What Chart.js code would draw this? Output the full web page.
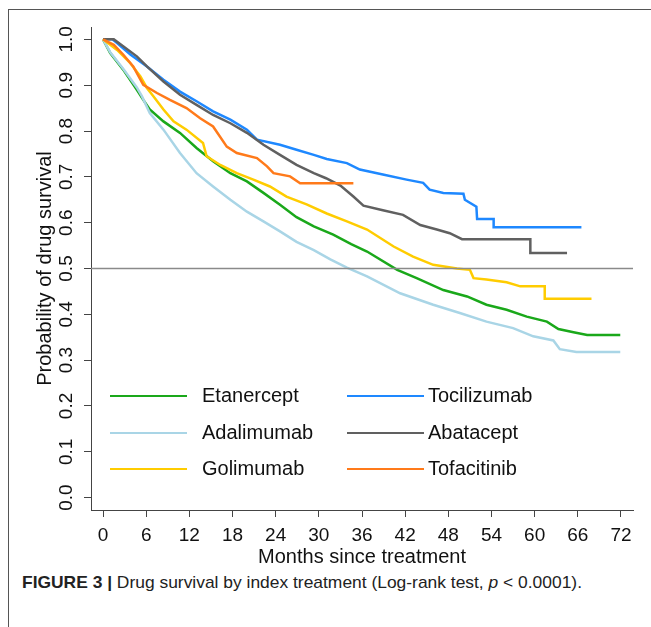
<!DOCTYPE html>
<html><head><meta charset="utf-8">
<script src="https://cdn.jsdelivr.net/npm/chart.js@4.4.1/dist/chart.umd.min.js"></script>
<style>
html,body{margin:0;padding:0;background:#fff;width:651px;height:627px;overflow:hidden;}
#frame{position:absolute;left:8px;top:9px;width:660px;height:640px;border-top:1.5px solid #555;border-left:1.5px solid #555;}
#wrap{position:absolute;left:0;top:0;width:651px;height:570px;}
.leg{position:absolute;font:20px "Liberation Sans",Arial,sans-serif;color:#111;white-space:nowrap;line-height:22px;}
.ll{position:absolute;height:2px;width:77px;}
#cap{position:absolute;left:22px;top:572px;font:17px "Liberation Sans Narrow","Arial Narrow","Liberation Sans",sans-serif;color:#222;white-space:nowrap;transform-origin:0 0;line-height:22px;}
</style></head><body>
<div id="frame"></div>
<div id="wrap"><canvas id="c" width="651" height="570"></canvas></div>
<div id="legend"></div>
<div id="cap"><b>FIGURE 3 |</b> Drug survival by index treatment (Log-rank test, <i>p</i> &lt; 0.0001).</div>
<script>
// ---- data (months since treatment, survival probability) ----
const seriesNames = ["Etanercept","Adalimumab","Golimumab","Tocilizumab","Abatacept","Tofacitinib"];
const seriesColors = ["#1aa81a","#a9d5e6","#ffcc00","#1e88ff","#606060","#ff7a1a"];

const etanerceptT = [0,1.0,2.8,4.7,5.6,6.5,8.4,10.7,13.0,15.3,17.7,20.0,22.3,24.6,26.9,29.3,32.0,34.5,36.7,40.9,43.6,47.3,50.6,53.3,56.1,58.9,61.7,63.3,65.4,67.3,71.9];
const etanerceptS = [1,0.970,0.934,0.890,0.868,0.847,0.821,0.796,0.763,0.734,0.708,0.690,0.665,0.639,0.612,0.592,0.574,0.553,0.537,0.497,0.479,0.453,0.439,0.421,0.410,0.395,0.384,0.368,0.361,0.355,0.355];

const adalimumabT = [0,1.0,2.8,4.7,5.4,6.5,8.4,10.7,13.0,15.3,17.7,20.0,22.3,24.6,26.9,29.3,31.6,33.9,36.7,41.3,45.9,49.6,53.3,57.0,59.8,62.6,63.5,65.8,71.9];
const adalimumabS = [1,0.972,0.936,0.895,0.876,0.839,0.803,0.752,0.708,0.679,0.650,0.624,0.603,0.581,0.558,0.540,0.520,0.502,0.483,0.446,0.421,0.403,0.384,0.370,0.352,0.343,0.324,0.318,0.318];

const golimumabT = [0,1.95,3.8,5.2,6.1,7.0,8.4,9.8,11.6,13.9,14.4,16.3,18.6,20.9,23.2,25.5,28.3,31.1,33.9,36.7,40.4,43.1,45.9,49.2,51.0,51.5,53.3,56.1,58.0,61.4,61.4,67.9];
const golimumabS = [1,0.977,0.948,0.919,0.894,0.876,0.847,0.821,0.803,0.774,0.745,0.726,0.708,0.694,0.679,0.657,0.640,0.620,0.603,0.585,0.548,0.526,0.508,0.500,0.497,0.479,0.476,0.470,0.461,0.461,0.434,0.434];

const tocilizumabT = [0,1.3,1.95,3.8,6.1,8.4,10.7,13.0,15.3,17.7,20.0,21.4,24.6,26.9,29.3,31.1,33.9,35.7,38.9,42.2,44.5,45.4,47.3,50.1,50.3,51.9,52.0,54.3,54.3,66.5];
const tocilizumabS = [1,1,0.992,0.967,0.941,0.912,0.886,0.865,0.843,0.825,0.803,0.781,0.770,0.759,0.748,0.739,0.730,0.716,0.705,0.694,0.687,0.672,0.665,0.663,0.650,0.635,0.608,0.608,0.590,0.590];

const abataceptT = [0,1.5,2.8,4.7,6.1,8.4,10.7,13.0,15.3,17.7,20.0,22.3,24.6,26.9,29.3,31.0,33.0,34.8,36.2,38.9,41.7,44.1,46.4,48.2,49.9,59.4,59.4,64.5];
const abataceptS = [1,1,0.985,0.963,0.941,0.908,0.879,0.857,0.835,0.817,0.796,0.770,0.748,0.726,0.708,0.697,0.681,0.657,0.637,0.627,0.617,0.595,0.585,0.577,0.564,0.564,0.534,0.534];

const tofacitinibT = [0,1.5,2.8,4.2,5.6,7.5,9.3,11.6,13.5,15.3,17.2,18.6,21.4,22.8,23.7,26.0,27.4,34.8];
const tofacitinibS = [1,0.988,0.967,0.941,0.901,0.883,0.868,0.850,0.828,0.810,0.766,0.752,0.741,0.723,0.708,0.701,0.686,0.686];

const xTicks = [0,6,12,18,24,30,36,42,48,54,60,66,72];
const yTicks = [0,0.1,0.2,0.3,0.4,0.5,0.6,0.7,0.8,0.9,1.0];
const refValue = 0.5;
// --------------------------------------------------------------

const seriesT = [etanerceptT, adalimumabT, golimumabT, tocilizumabT, abataceptT, tofacitinibT];
const seriesS = [etanerceptS, adalimumabS, golimumabS, tocilizumabS, abataceptS, tofacitinibS];
const FAM = '"Liberation Sans", Arial, sans-serif';

const datasets = seriesNames.map((name,i)=>({
  label: name,
  data: seriesT[i].map((t,k)=>({x:t,y:seriesS[i][k]})),
  borderColor: seriesColors[i],
  borderWidth: 2.5,
  pointRadius: 0,
  tension: 0,
  fill: false,
  order: seriesNames.length - i
}));

const refLine = {
  id:'refLine',
  afterDatasetsDraw(chart){
    const {ctx, chartArea:a, scales:{y}} = chart;
    const py = Math.round(y.getPixelForValue(refValue))+0.5;
    ctx.save();
    ctx.strokeStyle = '#8a8a8a';
    ctx.lineWidth = 1.5;
    ctx.beginPath(); ctx.moveTo(a.left,py); ctx.lineTo(a.right,py); ctx.stroke();
    ctx.restore();
  }
};

new Chart(document.getElementById('c'), {
  type:'line',
  data:{datasets},
  plugins:[refLine],
  options:{
    responsive:false, animation:false, events:[],
    layout:{padding:{top:27,right:18,left:0,bottom:0}},
    plugins:{legend:{display:false}, tooltip:{enabled:false}},
    scales:{
      x:{
        type:'linear', min:-1.67, max:73.67,
        afterBuildTicks:s=>{ s.ticks = xTicks.map(v=>({value:v})); },
        afterFit:s=>{ s.height = 60; },
        ticks:{font:{family:FAM,size:19},color:'#111',padding:7,maxRotation:0,autoSkip:false,callback:v=>String(v)},
        grid:{display:true,drawOnChartArea:false,drawTicks:true,tickLength:7,color:'#444',lineWidth:1},
        border:{display:true,color:'#444',width:1},
        title:{display:true,text:'Months since treatment',font:{family:FAM,size:20},color:'#111',padding:{top:0,bottom:1}}
      },
      y:{
        type:'linear', min:-0.027, max:1.027,
        afterBuildTicks:s=>{ s.ticks = yTicks.map(v=>({value:v})); },
        afterFit:s=>{ s.width = 91; },
        ticks:{font:{family:FAM,size:19},color:'#111',padding:4,minRotation:90,maxRotation:90,crossAlign:'center',autoSkip:false,callback:v=>Number(v).toFixed(1)},
        grid:{display:true,drawOnChartArea:false,drawTicks:true,tickLength:7,color:'#444',lineWidth:1},
        border:{display:true,color:'#444',width:1},
        title:{display:true,text:'Probability of drug survival',font:{family:FAM,size:20},color:'#111',padding:{top:33,bottom:0}}
      }
    }
  }
});

// legend (HTML)
const legPos = [[110,202,396],[110,202,433],[110,202,469],[347,428,396],[347,428,433],[347,428,469]];
const legEl = document.getElementById('legend');
seriesNames.forEach((n,i)=>{
  const [lx,tx,cy] = legPos[i];
  const l = document.createElement('div'); l.className='ll';
  l.style.left=lx+'px'; l.style.top=(cy-1)+'px'; l.style.background=seriesColors[i];
  legEl.appendChild(l);
  const t = document.createElement('div'); t.className='leg';
  t.style.left=tx+'px'; t.style.top=(cy-12)+'px'; t.textContent=n;
  legEl.appendChild(t);
});

// fit caption width
const cap = document.getElementById('cap');
const w = cap.getBoundingClientRect().width;
cap.style.transform = 'scaleX(' + (560/w) + ')';
</script>
</body></html>
